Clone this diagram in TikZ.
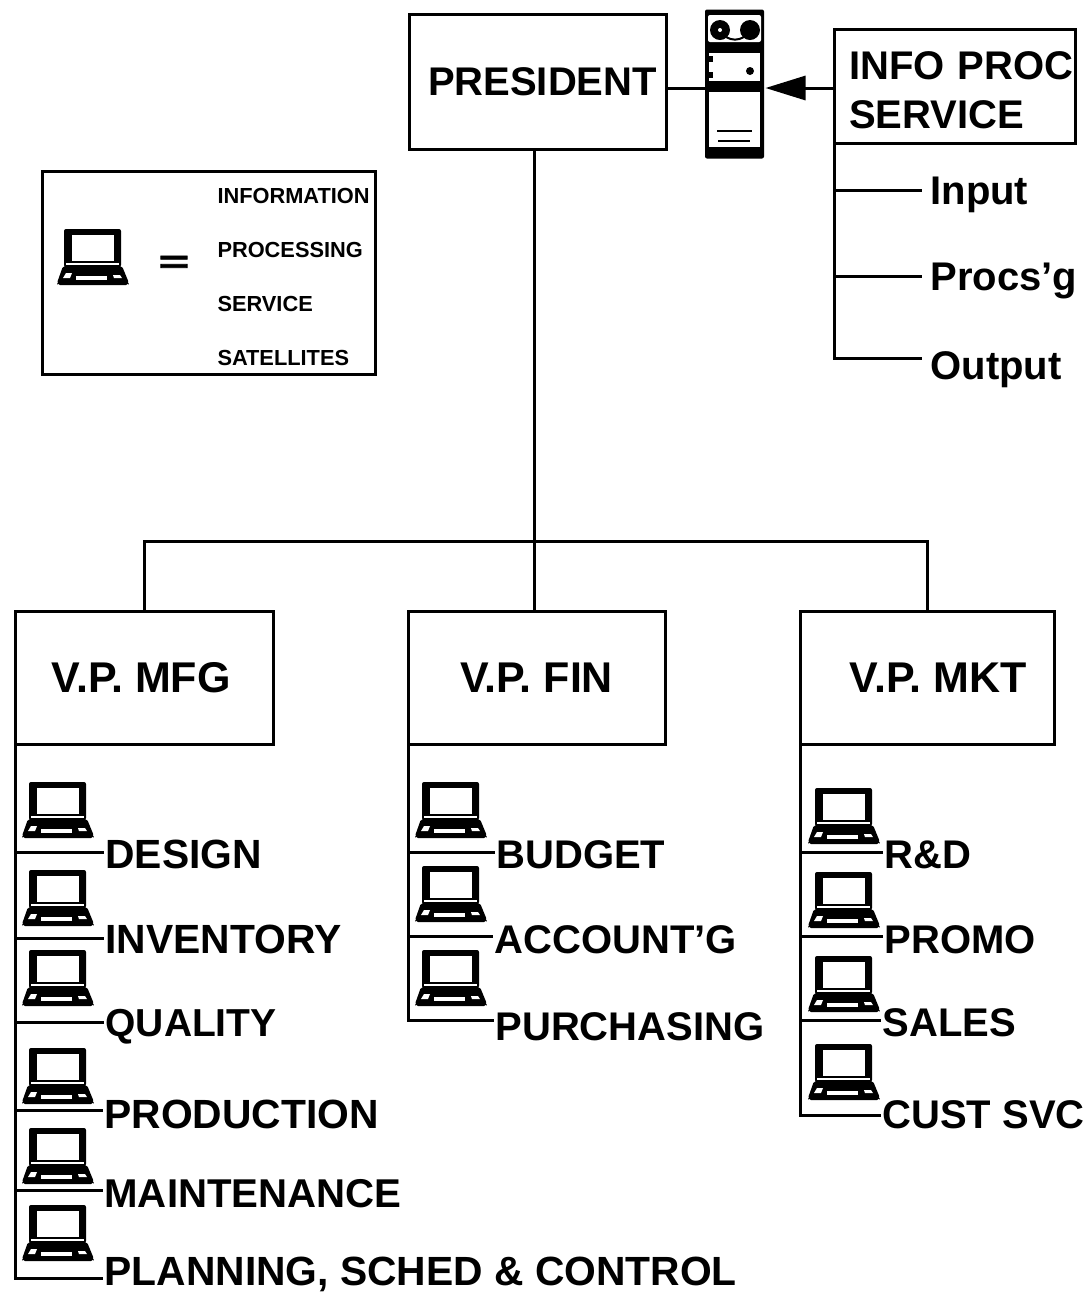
\documentclass[tikz,border=0pt]{standalone}
\usepackage{fontspec}
\setmainfont{Liberation Sans}
\usepackage{tikz}
\usetikzlibrary{arrows.meta,positioning,calc}

\begin{document}
\begin{tikzpicture}[
  x=0.5pt, y=-0.5pt,
  font=\fontsize{20}{24.5}\selectfont\bfseries,
  line width=1.5pt,
  box/.style={draw, line width=1.5pt, inner sep=0pt, outer sep=0pt, align=center},
  vpbox/.style={box, minimum height=66.5pt, font=\fontsize{21.5}{24.5}\selectfont\bfseries},
  item/.style={anchor=west, inner sep=0pt, text height=13pt, text depth=0pt},
  mfgitem/.style={item, font=\fontsize{20.4}{24.5}\selectfont\bfseries},
  note/.style={anchor=base west, inner sep=0pt, font=\fontsize{10.9}{13}\selectfont\bfseries},
  arr/.style={-{Triangle[length=20pt, width=12pt]}, line width=1.5pt},
  laptop/.pic={
    \fill[rounded corners=1pt] (7,0) rectangle (64,38);
    \fill[white] (15,6) rectangle (57,32);
    \fill[white] (9,34) rectangle (62,35.5);
    \fill[rounded corners=1pt] (6,37) -- (65,37) -- (72,54) -- (71,56) -- (1,56) -- (0,54) -- cycle;
    \fill[white] (19,47) rectangle (50,51);
    \fill[white] (9,44) -- (15,44) -- (13,49) -- (6,49) -- cycle;
    \fill[white] (56,46) -- (63,46) -- (65,49) -- (57,49) -- cycle;
  }
]
\useasboundingbox (0,0) rectangle (1091,1298);

% top row
\node[box, minimum width=128.5pt, minimum height=67.5pt] (president) at (537.5,81.5) {\hspace*{5pt}PRESIDENT};
\node[box, fill=white, minimum width=120.5pt, minimum height=57pt, text width=120.5pt, align=left] (info) at (954.5,86) {\hspace*{7.5pt}\rule{0pt}{18pt}INFO PROC\\\hspace*{7.5pt}SERVICE};
\node[inner sep=0pt, minimum width=29.5pt, minimum height=74.5pt, fill=black, rounded corners=1pt] (server) at (734.5,84) {};
\coordinate (link) at (705,88);
\draw (president.east |- link) -- (link);
\draw[arr] (info.west |- link) -- (server.east |- link);

% tape unit
\fill[white, rounded corners=1pt] (708,15) rectangle (761,42);
\fill[white] (709,53) rectangle (760,81);
\fill[white] (709,92) rectangle (760,147);
\fill (720,30) circle[radius=5pt];
\fill (750,30) circle[radius=5pt];
\fill[white] (720,30) circle[radius=1pt];
\draw[line width=1pt] (726,37) to[bend right=30] (744,37);
\fill (709,56) rectangle (713,62);
\fill (709,72) rectangle (713,78);
\fill (750,71) circle[radius=2pt];
\draw[line width=1pt] (717,131) -- (752,131);
\draw[line width=1pt] (718,141) -- (750,141);

% info service items
\node[item] (input) at (929,191) {Input};
\node[item] (procsg) at (929,277) {Procs'g};
\node[item] (output) at (929,366) {Output};
\draw (info.south west) |- ([xshift=-3.5pt,yshift=.5pt]input.west);
\draw (info.south west) |- ([xshift=-3.5pt,yshift=.5pt]procsg.west);
\draw (info.south west) |- ([xshift=-3.5pt,yshift=4pt]output.west);

% legend
\node[box, minimum width=166.5pt, minimum height=101.5pt] (legend) at (208.5,272.5) {};
\pic at (57,229) {laptop};
\node[inner sep=0pt, font=\fontsize{26}{26}\selectfont\bfseries\addfontfeature{FakeBold=2.5}] (equals) at (174,264) {\scalebox{1}[.6]{=}};
\node[note] (n1) at (216,203) {INFORMATION};
\node[note] (n2) at (216,257) {PROCESSING};
\node[note] (n3) at (216,311) {SERVICE};
\node[note] (n4) at (216,365) {SATELLITES};

% vice presidents
\node[vpbox, minimum width=129pt] (mfg) at (144,677.5) {\hspace*{-3pt}V.P. MFG};
\node[vpbox, minimum width=128.5pt] (fin) at (536.5,677.5) {V.P. FIN};
\node[vpbox, minimum width=127pt] (mkt) at (927,677.5) {\hspace*{11pt}V.P. MKT};
\coordinate (bus) at (534,541);
\draw (president.south -| bus) -- (fin.north -| bus);
\draw (mfg.north) |- (bus) -| (mkt.north);

% manufacturing
\pic at (22,782) {laptop};
\pic at (22,870) {laptop};
\pic at (22,950) {laptop};
\pic at (22,1048) {laptop};
\pic at (22,1128) {laptop};
\pic at (22,1205) {laptop};
\node[mfgitem] (design) at (104,855) {DESIGN};
\node[mfgitem] (inventory) at (104,940) {INVENTORY};
\node[item, font=\fontsize{19.5}{24.5}\selectfont\bfseries] (quality) at (104,1023) {QUALITY};
\node[mfgitem] (production) at (103,1115) {PRODUCTION};
\node[item, font=\fontsize{20.1}{24.5}\selectfont\bfseries] (maintenance) at (103,1194) {MAINTENANCE};
\node[mfgitem] (planning) at (103,1272) {PLANNING, SCHED \& CONTROL};
\draw (mfg.south west) |- ([yshift=1.5pt]design.west);
\draw (mfg.south west) |- ([yshift=1pt]inventory.west);
\draw (mfg.south west) |- ([yshift=.5pt]quality.west);
\draw (mfg.south west) |- ([yshift=2.5pt]production.west);
\draw (mfg.south west) |- ([yshift=2pt]maintenance.west);
\draw (mfg.south west) |- ([yshift=-3pt]planning.west);

% finance
\pic at (415,782) {laptop};
\pic at (415,866) {laptop};
\pic at (415,950) {laptop};
\node[item] (budget) at (495,855) {BUDGET};
\node[item] (account) at (493,940) {ACCOUNT'G};
\node[item] (purchasing) at (494,1027) {PURCHASING};
\draw (fin.south west) |- ([yshift=1.5pt]budget.west);
\draw (fin.south west) |- ([yshift=2pt]account.west);
\draw (fin.south west) |- ([yshift=3.5pt]purchasing.west);

% marketing
\pic at (808,788) {laptop};
\pic at (808,872) {laptop};
\pic at (808,956) {laptop};
\pic at (808,1044) {laptop};
\node[item] (rnd) at (883,855) {R\&D};
\node[item] (promo) at (883,940) {PROMO};
\node[item] (sales) at (881,1023) {SALES};
\node[item] (cust) at (881,1115) {CUST SVC};
\draw (mkt.south west) |- ([yshift=1.5pt]rnd.west);
\draw (mkt.south west) |- ([yshift=2pt]promo.west);
\draw (mkt.south west) |- ([yshift=1.5pt]sales.west);
\draw (mkt.south west) |- (cust.west);
\end{tikzpicture}
\end{document}
